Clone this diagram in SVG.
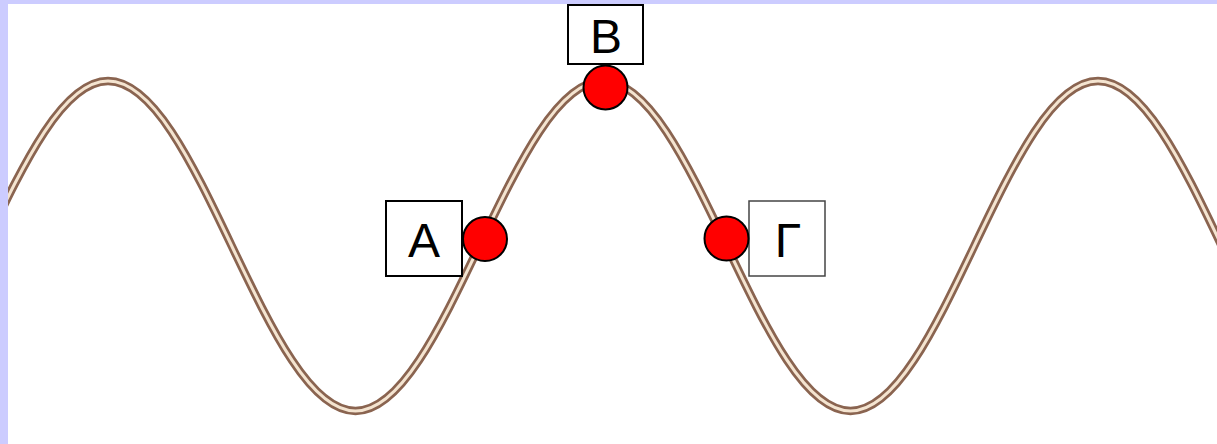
<svg xmlns="http://www.w3.org/2000/svg" width="1217" height="444" viewBox="0 0 1217 444">
<style>
.box{fill:#ffffff;stroke:#000000;stroke-width:2}
.dot{fill:#ff0000;stroke:#000000;stroke-width:2}
.lbl{font-family:"Liberation Sans",Arial,sans-serif;font-size:48px;fill:#000000;text-anchor:middle}
</style>
<defs>
<path id="wave" d="M -13.75 246 C 26.61 161.47 65.21 81 110 81 S 193.39 161.47 233.75 246 S 312.71 411 357.5 411 S 440.89 330.53 481.25 246 S 560.21 81 605 81 S 688.39 161.47 728.75 246 S 807.71 411 852.5 411 S 935.89 330.53 976.25 246 S 1055.21 81 1100 81 S 1183.39 161.47 1223.75 246"/>
<clipPath id="area"><rect x="8" y="4" width="1209" height="440"/></clipPath>
</defs>
<rect x="0" y="0" width="1217" height="444" fill="#ccccff"/>
<rect x="8" y="4" width="1209" height="440" fill="#ffffff"/>
<g id="curve" clip-path="url(#area)">
<g transform="translate(-2,0)">
<use href="#wave" fill="none" stroke="#8a6450" stroke-width="8.5"/>
<use href="#wave" fill="none" stroke="#f4e4d0" stroke-width="3"/>
</g>
</g>
<g id="connectors"></g>
<g id="nodeA">
<rect class="box" x="386" y="201" width="76" height="75"/>
<text class="lbl" x="424" y="257">A</text>
<circle class="dot" cx="485" cy="239" r="22"/>
</g>
<g id="nodeB">
<rect class="box" x="568" y="5" width="75" height="59"/>
<text class="lbl" x="606" y="53">B</text>
<circle class="dot" cx="605.5" cy="87.5" r="22"/>
</g>
<g id="nodeG">
<rect class="box" x="749" y="201" width="76" height="75" style="stroke:#444444;stroke-width:1.5"/>
<text class="lbl" x="788" y="257">Γ</text>
<circle class="dot" cx="726.5" cy="238.5" r="22"/>
</g>
</svg>
